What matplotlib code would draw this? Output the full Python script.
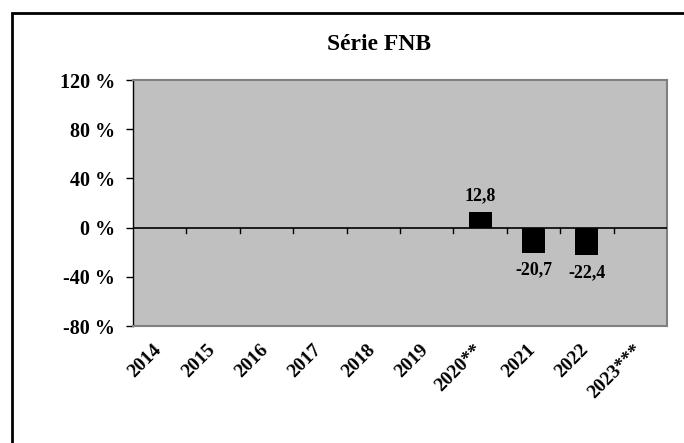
import matplotlib
matplotlib.use("Agg")
import matplotlib.pyplot as plt
import matplotlib.transforms as mtrans
import numpy as np
from matplotlib.patches import Rectangle

# donnees
annees = ["2014", "2015", "2016", "2017", "2018", "2019", "2020**", "2021", "2022", "2023***"]
valeurs = [None, None, None, None, None, None, 12.8, -20.7, -22.4, None]
yticks = [-80, -40, 0, 40, 80, 120]

plt.rcParams['font.family'] = ['Liberation Serif', 'DejaVu Serif']
plt.rcParams['font.weight'] = 'bold'

fig = plt.figure(figsize=(6.84, 4.43), dpi=100)
fig.patches.append(Rectangle((12/684, -0.1), 1.2, 1 - 13/443 + 0.1, transform=fig.transFigure,
                             fill=False, edgecolor='black', linewidth=2, zorder=0))

ax = fig.add_axes([133/684, 1 - 326/443, 534/684, 246/443])
ax.set_facecolor('#c0c0c0')

x = np.arange(len(annees))
for xi, v in zip(x, valeurs):
    if v is None:
        continue
    ax.bar(xi, v, width=0.43, color='black', zorder=3)
    if v >= 0:
        ax.text(xi, v + 6, f"{v:.1f}".replace('.', ','), ha='center', va='bottom',
                fontsize=13, fontweight='bold')
    else:
        ax.text(xi, v - 7, f"{v:.1f}".replace('.', ','), ha='center', va='top',
                fontsize=13, fontweight='bold')

ax.set_xlim(-0.5, len(annees) - 0.5)
ax.set_ylim(-80, 120)
ax.set_yticks(yticks)
ax.set_yticklabels([f"{t} %" for t in yticks], fontsize=14.5, fontweight='bold')
ax.tick_params(axis='y', length=5, width=1, pad=8)

# axe zero + graduations
ax.axhline(0, color='black', linewidth=1.2, zorder=4)
for b in np.arange(0.5, len(annees) - 0.5):
    ax.plot([b, b], [0, -4], color='black', linewidth=1, zorder=4, clip_on=False)

ax.set_xticks(x)
ax.set_xticklabels(annees, rotation=45, ha='right', va='top', rotation_mode='anchor',
                   fontsize=14, fontweight='bold')
ax.tick_params(axis='x', length=0, pad=11)
decal = mtrans.ScaledTranslation(-7/100, 0, fig.dpi_scale_trans)
for lab in ax.get_xticklabels():
    lab.set_transform(lab.get_transform() + decal)

for s in ['top', 'right', 'bottom']:
    ax.spines[s].set_color('#808080')
    ax.spines[s].set_linewidth(1.5)
ax.spines['left'].set_color('black')
ax.spines['left'].set_linewidth(1)

fig.text(379/684, 1 - 45/443, "Série FNB", ha='center', va='center', fontsize=17, fontweight='bold')

fig.savefig("out.png", dpi=100)
